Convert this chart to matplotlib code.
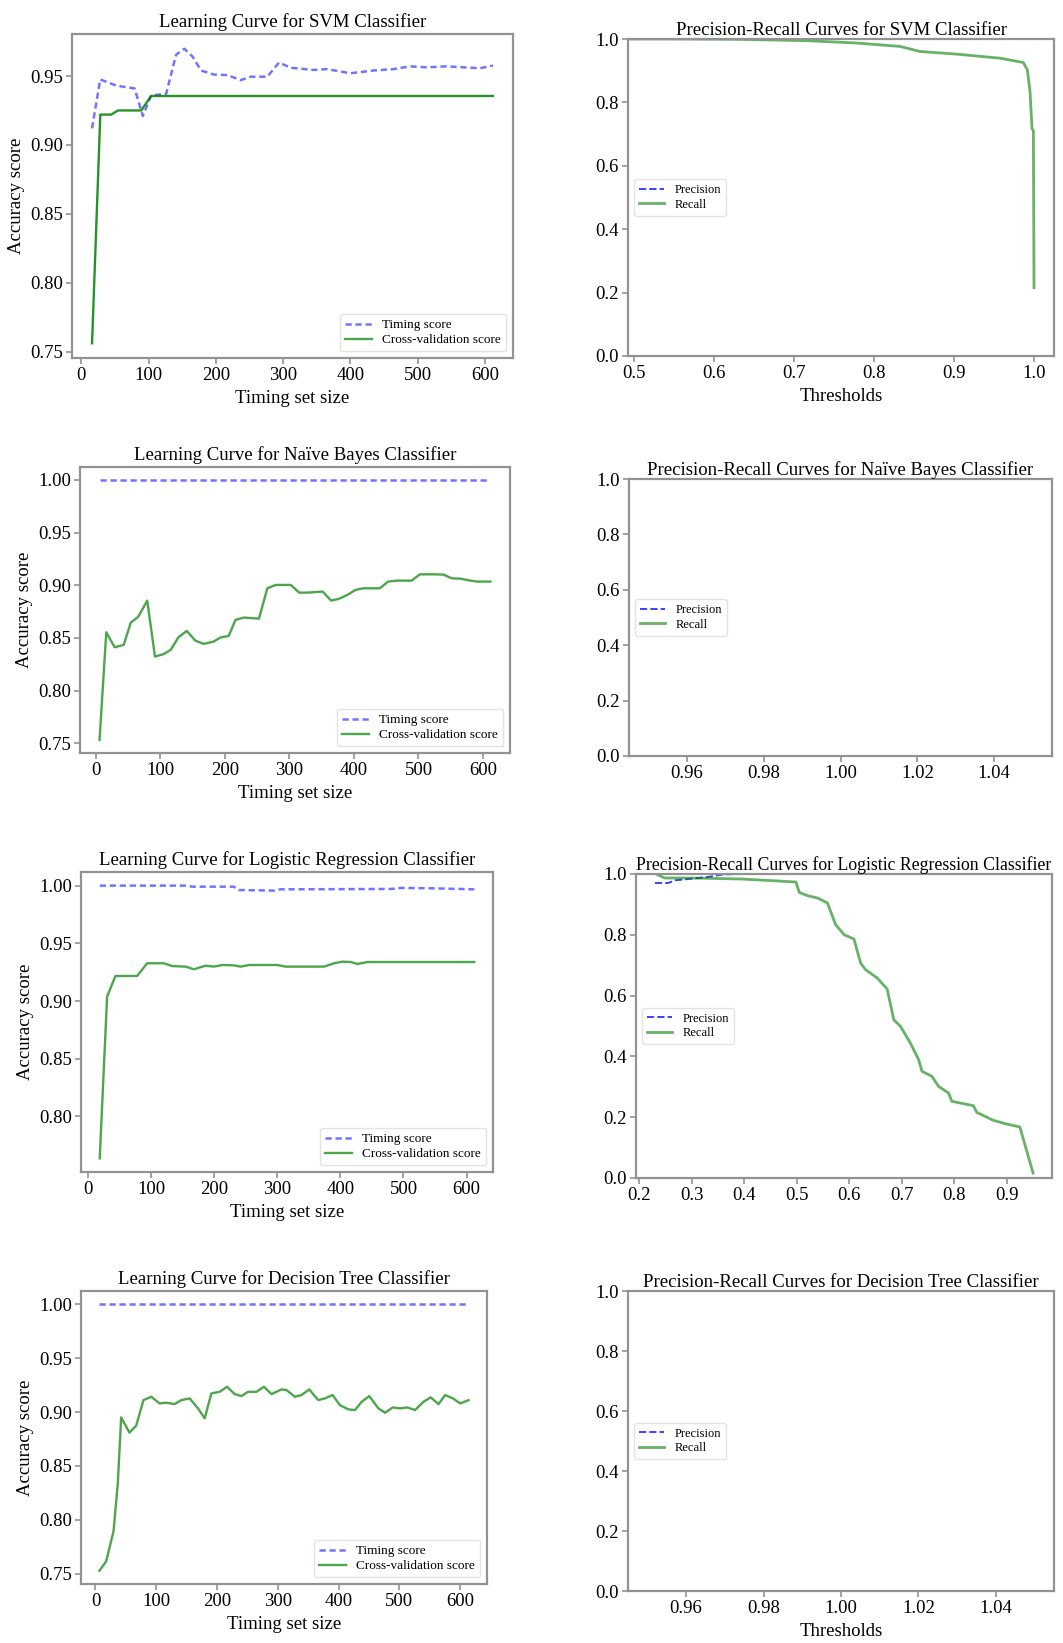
import numpy as np
import matplotlib
matplotlib.use("Agg")
import matplotlib.pyplot as plt
from matplotlib.ticker import MultipleLocator

plt.rcParams['font.family'] = ['Liberation Serif', 'DejaVu Serif']

# ---- learning curves: training sizes / scores ----
svm_cv_x = [15.8, 28.1, 44.4, 54.3, 88.9, 103.7, 612]
svm_cv_y = [0.756, 0.922, 0.922, 0.925, 0.925, 0.9355, 0.9355]
svm_tr_x = [15.8, 28, 52, 79, 91.4, 103.7, 126, 140.7, 153, 165.4, 177.8, 197.5,
            217, 237, 252, 276.5, 293.8, 311, 345.7, 365, 400, 434.6, 464, 489,
            513.6, 543, 568, 592.6, 612]
svm_tr_y = [0.912, 0.9475, 0.943, 0.941, 0.921, 0.936, 0.937, 0.9654, 0.9698, 0.964,
            0.954, 0.951, 0.9507, 0.947, 0.9495, 0.9495, 0.9598, 0.956, 0.9544, 0.955,
            0.952, 0.954, 0.955, 0.957, 0.9563, 0.957, 0.9563, 0.9556, 0.9576]

nb_cv_x = [6.2, 16.6, 29.6, 43.6, 54.5, 66, 80, 92, 105, 116.4, 128.3, 141.3, 154.3,
           167.3, 182.9, 193.2, 206.2, 216.6, 229.6, 253, 266, 279, 302.3, 315.3,
           328.3, 351.7, 364.7, 377.7, 390.6, 402.6, 414, 440, 453, 466, 489.4,
           502.3, 525.7, 538.7, 551.7, 564.7, 577.7, 590.6, 611.4]
nb_cv_y = [0.753, 0.8554, 0.8411, 0.8433, 0.8645, 0.870, 0.8854, 0.8323, 0.8345,
           0.8386, 0.8506, 0.8566, 0.8475, 0.8443, 0.8465, 0.8503, 0.8519, 0.8671,
           0.8693, 0.8683, 0.8971, 0.9003, 0.9003, 0.893, 0.893, 0.894, 0.8854,
           0.8873, 0.8911, 0.8956, 0.8971, 0.8971, 0.9035, 0.9044, 0.9044, 0.9104,
           0.9104, 0.9101, 0.9066, 0.9063, 0.9047, 0.9035, 0.9035]
nb_tr_x = [6.2, 611.4]
nb_tr_y = [1.0, 1.0]

lr_cv_x = [18.5, 30.2, 43.4, 77.8, 93.7, 120.1, 133.3, 154.5, 167.7, 186.2, 199.5,
           212.7, 231.2, 241.8, 255, 300, 313.2, 374, 390, 403.2, 416.4, 427,
           442.9, 612.2]
lr_cv_y = [0.7636, 0.9038, 0.9217, 0.9217, 0.9327, 0.9327, 0.9303, 0.9298, 0.9275,
           0.9306, 0.9298, 0.9312, 0.9309, 0.9298, 0.9312, 0.9312, 0.9298, 0.9298,
           0.9327, 0.9341, 0.9338, 0.9321, 0.9338, 0.9338]
lr_tr_x = [18.5, 157, 165, 231, 239, 294.7, 305, 480, 496, 543, 612.2]
lr_tr_y = [1.0, 1.0, 0.9991, 0.9991, 0.9962, 0.9957, 0.9968, 0.9971, 0.998, 0.9977, 0.9968]

dt_cv_x = [6.6, 17.6, 29.7, 36.8, 42.3, 56, 67, 79, 91.8, 105.5, 116.5, 130.2, 141.2,
           155, 168.7, 179.7, 190.7, 204.4, 216.5, 229, 240, 251, 264.8, 277, 289.6,
           306, 314.3, 328, 339, 351.6, 366.5, 377.5, 390, 402, 416, 427, 438, 450.5,
           465.4, 476.4, 489, 501, 513, 525.8, 539.6, 551.6, 564.3, 575.3, 588, 600,
           613.7]
dt_cv_y = [0.7528, 0.7614, 0.7892, 0.834, 0.8951, 0.8809, 0.8874, 0.9111, 0.9142,
           0.908, 0.9087, 0.9074, 0.9111, 0.9127, 0.9034, 0.8942, 0.9173, 0.9188,
           0.9235, 0.9167, 0.9148, 0.9188, 0.9188, 0.9235, 0.9167, 0.921, 0.9204,
           0.9142, 0.9158, 0.921, 0.9111, 0.9127, 0.9158, 0.9065, 0.9025, 0.9019,
           0.9096, 0.9148, 0.9034, 0.8994, 0.9043, 0.9034, 0.9043, 0.9019, 0.9096,
           0.9136, 0.9074, 0.9158, 0.9127, 0.908, 0.9111]
dt_tr_x = [6.6, 613.7]
dt_tr_y = [1.0, 1.0]

# ---- precision / recall vs threshold ----
svm_thr = [0.4925, 0.5488, 0.632, 0.7156, 0.778, 0.8324, 0.8574, 0.9033, 0.9575,
           0.9867, 0.9917, 0.995, 0.9975, 0.9992, 1.0]
svm_rec = [1.0, 1.0, 0.9989, 0.9947, 0.9873, 0.9766, 0.9607, 0.9522, 0.9395,
           0.9257, 0.9023, 0.8333, 0.7166, 0.7113, 0.2155]
svm_prec = [1.0] * len(svm_thr)

lr_thr = [0.2316, 0.2487, 0.2993, 0.3941, 0.4985, 0.5048, 0.5206, 0.5396, 0.5585,
          0.5743, 0.5902, 0.6091, 0.6218, 0.6313, 0.6534, 0.6724, 0.685, 0.6977,
          0.7166, 0.7324, 0.7388, 0.7577, 0.7704, 0.7894, 0.7957, 0.8368, 0.8432,
          0.8748, 0.9, 0.9253, 0.9506]
lr_rec = [1.0, 0.9868, 0.9868, 0.9836, 0.9737, 0.9397, 0.9287, 0.9211, 0.9046,
          0.8333, 0.8004, 0.7862, 0.7072, 0.6853, 0.6579, 0.6217, 0.5208, 0.4989,
          0.4441, 0.3893, 0.3509, 0.3344, 0.3015, 0.2796, 0.2522, 0.2379, 0.216,
          0.1897, 0.1776, 0.1678, 0.0164]
lr_prec_thr = [0.2297, 0.255, 0.2677, 0.2993, 0.3309, 0.3562, 0.3815, 0.9506]
lr_prec = [0.9704, 0.9704, 0.9792, 0.9846, 0.9901, 0.9978, 1.0, 1.0]

# single threshold -> nothing visible
nb_thr, nb_prec, nb_rec = [1.0], [1.0], [1.0]
dt_thr, dt_prec, dt_rec = [1.0], [1.0], [1.0]

W, H = 1063, 1643
fig = plt.figure(figsize=(W / 100, H / 100), dpi=100)


def axes_px(x0, y0, x1, y1):
    return fig.add_axes([x0 / W, 1 - y1 / H, (x1 - x0) / W, (y1 - y0) / H])


def style(ax):
    for s in ax.spines.values():
        s.set_color('#929292')
        s.set_linewidth(1.6)
    ax.tick_params(colors='#929292', labelcolor='black', labelsize=13.5,
                   length=4, width=1.2, pad=2.5, top=False, right=False)


def learning(ax, title, tx, ty, cx, cy, xlabel=True):
    style(ax)
    ax.plot(tx, ty, '--', color='b', alpha=0.55, lw=1.8, dashes=(2.5, 1.5),
            label='Timing score')
    ax.plot(cx, cy, '-', color='g', alpha=0.7, lw=1.7, label='Cross-validation score')
    ax.set_title(title, fontsize=13.5, pad=5)
    ax.set_ylabel('Accuracy score', fontsize=13.5)
    if xlabel:
        ax.set_xlabel('Timing set size', fontsize=13.5)
    ax.legend(loc='lower right', fontsize=9.5, handlelength=2, labelspacing=0.2,
              borderpad=0.4, edgecolor='#dddddd')


def pr(ax, title, thr_p, prec, thr_r, rec, xlabel=True, xlim=None, xstep=None, tsize=13.5):
    style(ax)
    ax.plot(thr_p, prec, '--', color='b', alpha=0.75, lw=1.4, label='Precision')
    ax.plot(thr_r, rec, '-', color='g', alpha=0.6, lw=2, label='Recall')
    ax.set_ylim(0, 1)
    if xlim:
        ax.set_xlim(*xlim)
    if xstep:
        ax.xaxis.set_major_locator(MultipleLocator(xstep))
    ax.set_title(title, fontsize=tsize, pad=3)
    if xlabel:
        ax.set_xlabel('Thresholds', fontsize=13.5)
    ax.legend(loc='center left', fontsize=9, handlelength=2, labelspacing=0.2,
              borderpad=0.4, edgecolor='#dddddd')


ax = axes_px(72, 34, 513, 358)
learning(ax, 'Learning Curve for SVM Classifier', svm_tr_x, svm_tr_y, svm_cv_x, svm_cv_y)
ax.lines[1].set_alpha(0.85)

ax = axes_px(628, 39, 1054, 356)
pr(ax, 'Precision-Recall Curves for SVM Classifier', svm_thr, svm_prec, svm_thr, svm_rec,
   xlim=(0.492, 1.025))

ax = axes_px(80, 467, 510, 753)
learning(ax, 'Learning Curve for Naïve Bayes Classifier', nb_tr_x, nb_tr_y, nb_cv_x, nb_cv_y)

ax = axes_px(629, 479, 1052, 756)
pr(ax, 'Precision-Recall Curves for Naïve Bayes Classifier', nb_thr, nb_prec, nb_thr, nb_rec,
   xlabel=False)

ax = axes_px(81, 872, 493, 1172)
learning(ax, 'Learning Curve for Logistic Regression Classifier', lr_tr_x, lr_tr_y, lr_cv_x, lr_cv_y)

ax = axes_px(636, 874, 1052, 1178)
pr(ax, 'Precision-Recall Curves for Logistic Regression Classifier', lr_prec_thr, lr_prec,
   lr_thr, lr_rec, xlabel=False, xstep=0.1, tsize=12.8)

ax = axes_px(81, 1291, 487, 1584)
learning(ax, 'Learning Curve for Decision Tree Classifier', dt_tr_x, dt_tr_y, dt_cv_x, dt_cv_y)

ax = axes_px(628, 1291, 1054, 1591)
pr(ax, 'Precision-Recall Curves for Decision Tree Classifier', dt_thr, dt_prec, dt_thr, dt_rec)

fig.savefig('out.png', dpi=100)
